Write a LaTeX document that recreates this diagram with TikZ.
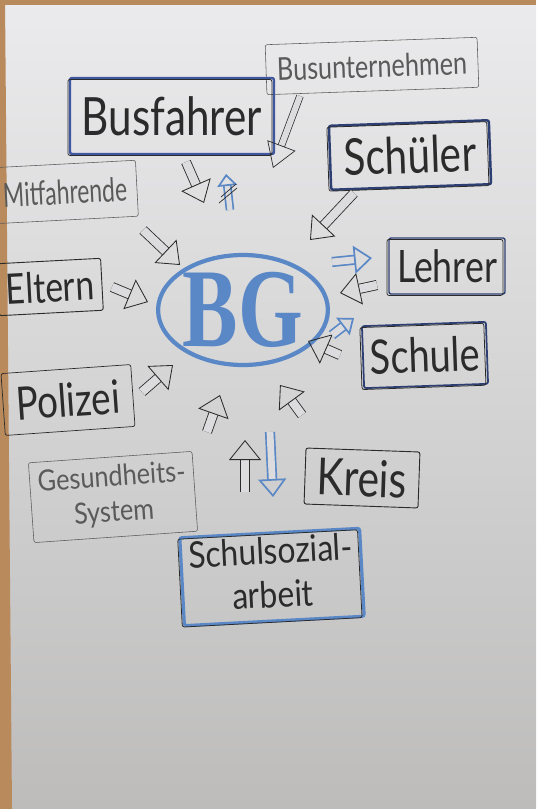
\documentclass[tikz,border=0pt]{standalone}
\usepackage{fontspec}
\setmainfont{Lato}
\newfontfamily\bgfont{Liberation Serif}
\usetikzlibrary{arrows.meta,shapes.geometric}

\definecolor{ink}{HTML}{2B2B2B}
\definecolor{pen}{HTML}{5A5A5A}
\definecolor{marker}{HTML}{5A87C5}
\definecolor{navy}{HTML}{2E3F73}
\definecolor{busblue}{HTML}{3F57A0}
\definecolor{paperhi}{HTML}{EBEBED}
\definecolor{paperlo}{HTML}{BDBCBB}
\definecolor{papermid}{HTML}{DCDCDE}
\definecolor{cork}{HTML}{B98A5C}

% handwriting: fixed width, a bit taller than the font
\newcommand\hand[3][1.25]{\scalebox{1}[#1]{\resizebox{#2}{!}{#3}}}

\tikzset{
  word/.style={draw=pen, line width=0.8pt, rounded corners=3pt, inner sep=0pt, text=pen},
  penbox/.style={word, draw=ink, line width=1.3pt, text=ink},
  framed/.style={penbox, draw=#1, line width=3.5pt,
    postaction={draw=ink, line width=1.1pt, transform canvas={shift={(-3pt,-2pt)}}}},
  hub/.style={ellipse, draw=marker, line width=6pt, inner sep=0pt, text=marker},
  blk/.style={draw=#1, line width=1.2pt, double=papermid, double distance=4.2mm,
    -{Triangle[open, length=10mm, width=16mm]}},
  blk/.default=ink,
  blue blk/.style={blk=marker, line width=2.4pt, double distance=3.4mm,
    -{Triangle[open, length=9mm, width=14mm]}},
}

\begin{document}
\begin{tikzpicture}[x=0.5mm, y=-0.5mm]
\useasboundingbox (0,0) rectangle (536,809);
% the sheet on the board
\fill[top color=paperhi, bottom color=paperlo] (0,0) rectangle (536,809);
\fill[cork] (0,0) rectangle (536,5);
\fill[cork] (0,0) -- (5,0) -- (12,809) -- (0,809) -- cycle;

% centre
\node[hub, minimum width=75mm, minimum height=55mm] (bg) at (243,310)
  {\hand[1.35]{60mm}{\bgfont\bfseries BG}};

% partners
\node[word, minimum width=106mm, minimum height=25mm, rotate=2] (busunt) at (372,66)
  {\hand{95mm}{Busunternehmen}};
\node[framed=busblue, minimum width=102mm, minimum height=38mm] (busfahrer) at (172,116)
  {\hand{90mm}{Busfahrer}};
\node[framed=navy, minimum width=80mm, minimum height=32mm, rotate=2] (schueler) at (410,155)
  {\hand{66mm}{Schüler}};
\node[word, minimum width=72mm, minimum height=28mm, rotate=3] (mitfahr) at (65,192)
  {\hand[1.45]{62mm}{Mitfahrende}};
\node[penbox, minimum width=52mm, minimum height=26mm, rotate=3] (eltern) at (50,287)
  {\hand{44mm}{Eltern}};
\node[framed=navy, line width=2pt, minimum width=58mm, minimum height=28mm] (lehrer) at (447,266)
  {\hand{50mm}{Lehrer}};
\node[framed=navy, line width=2.5pt, minimum width=62mm, minimum height=31mm, rotate=2] (schule) at (425,355)
  {\hand{55mm}{Schule}};
\node[penbox, line width=1pt, minimum width=65mm, minimum height=31mm, rotate=4] (polizei) at (68,400)
  {\hand{52mm}{Polizei}};
\node[word, minimum width=82mm, minimum height=40mm, rotate=4] (gesund) at (113,497)
  {\hand[1.15]{74mm}{\begin{tabular}{@{}c@{}}Gesundheits-\\System\end{tabular}}};
\node[penbox, minimum width=57mm, minimum height=28mm, rotate=-2] (kreis) at (362,478)
  {\hand{45mm}{Kreis}};
\node[framed=marker, line width=4.5pt, minimum width=90mm, minimum height=44mm, rotate=3] (schulsoz) at (272,577)
  {\hand[1.15]{82mm}{\begin{tabular}{@{}c@{}}Schulsozial-\\arbeit\end{tabular}}};

% arrows towards the centre
\draw[blk] ([shift={(14,46)}]busfahrer.center) -- ([shift={(-39,-107)}]bg.center);
\draw[blk, line width=1pt, double distance=3mm, -{Triangle[open, length=12mm, width=15mm]}]
  ([shift={(-72,30)}]busunt.center) -- ([shift={(30,-142)}]bg.center);
\draw[blk] ([shift={(-56,38)}]schueler.center) -- ([shift={(67,-70)}]bg.center);
\draw[blk] ([shift={(78,38)}]mitfahr.center) -- ([shift={(-63,-45)}]bg.center);
\draw[blk] ([shift={(62,0)}]eltern.center) -- ([shift={(-95,-8)}]bg.center);
\draw[blk] ([shift={(-70,19)}]lehrer.center) -- ([shift={(97,-17)}]bg.center);
\draw[blk] ([shift={(-85,0)}]schule.center) -- ([shift={(65,31)}]bg.center);
\draw[blk] ([shift={(74,-8)}]polizei.center) -- ([shift={(-70,55)}]bg.center);
\draw[blk] ([shift={(94,-65)}]gesund.center) -- ([shift={(-23,85)}]bg.center);
\draw[blk] ([shift={(-60,-63)}]kreis.center) -- ([shift={(37,75)}]bg.center);
\draw[blk] ([shift={(-27,-85)}]schulsoz.center) -- ([shift={(2,130)}]bg.center);

% arrows from the centre
\draw[blue blk, double distance=2.6mm, -{Triangle[open, length=6mm, width=10mm]}]
  ([shift={(-13,-100)}]bg.center) -- ([shift={(54,58)}]busfahrer.center);
\draw[ink, line width=1pt] (219,203) -- (237,188) (221,197) -- (236,184);
\draw[blue blk] ([shift={(89,-48)}]bg.center) -- ([shift={(-75,-8)}]lehrer.center);
\draw[blue blk, -{Triangle[open, length=7mm, width=11mm]}]
  ([shift={(89,25)}]bg.center) -- ([shift={(-71,-37)}]schule.center);
\draw[blue blk] ([shift={(27,122)}]bg.center) -- ([shift={(1,-80)}]schulsoz.center);
\end{tikzpicture}
\end{document}
